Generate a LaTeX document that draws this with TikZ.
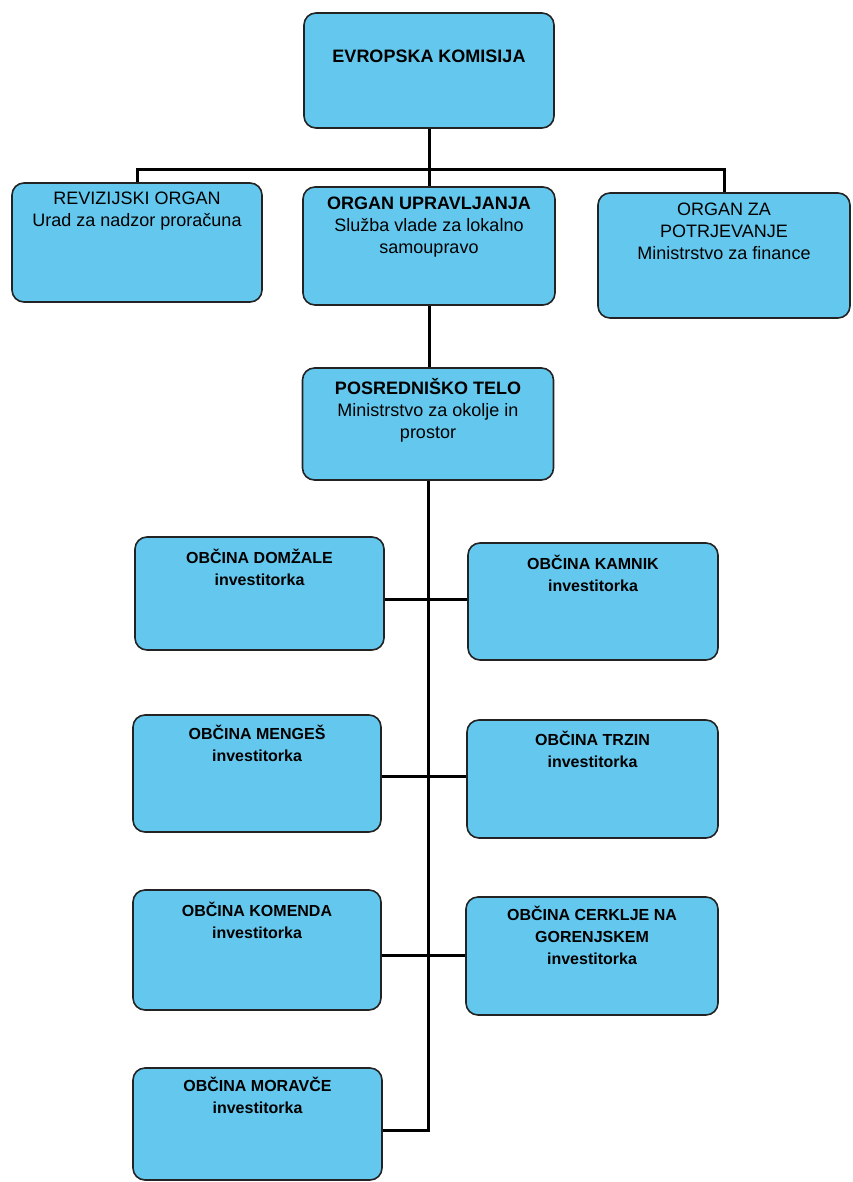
\documentclass[tikz,border=0pt]{standalone}
\usepackage{fontspec}
\setmainfont{Liberation Sans}
\definecolor{boxblue}{RGB}{100,200,238}
\definecolor{edgegray}{RGB}{35,35,35}
\begin{document}
\begin{tikzpicture}[x=1pt,y=-1pt,
  box/.style={draw=edgegray, line width=1.6pt, fill=boxblue, rounded corners=12pt, inner sep=0pt},
  txt/.style={anchor=north, inner sep=0pt, align=center, text=black},
  upfont/.style={font=\fontsize{18}{22}\selectfont},
  lofont/.style={font=\bfseries\fontsize{16}{22}\selectfont},
  conn/.style={line width=3pt, black}]
\useasboundingbox[fill=white] (0,0) rectangle (853,1182);

% boxes
\node[box, minimum width=250pt, minimum height=115pt] (ek)  at (429,70.5) {};
\node[box, minimum width=250pt, minimum height=119pt] (rev) at (137,242.5) {};
\node[box, minimum width=252pt, minimum height=118pt] (upr) at (429,246) {};
\node[box, minimum width=252pt, minimum height=125pt] (pot) at (724,255.5) {};
\node[box, minimum width=251pt, minimum height=112pt] (pos) at (428,424) {};
\node[box, minimum width=249pt, minimum height=113pt] (dom) at (259.5,593.5) {};
\node[box, minimum width=250pt, minimum height=117pt] (kam) at (593,601.5) {};
\node[box, minimum width=248pt, minimum height=117pt] (men) at (257,773.5) {};
\node[box, minimum width=251pt, minimum height=118pt] (trz) at (592.5,779) {};
\node[box, minimum width=248pt, minimum height=120pt] (kom) at (257,950) {};
\node[box, minimum width=252pt, minimum height=118pt] (cer) at (592,956) {};
\node[box, minimum width=249pt, minimum height=112pt] (mor) at (257.5,1124) {};

% texts
\node[txt, upfont] (ekt)  at ([yshift=-38pt]ek.north)  {\textbf{EVROPSKA KOMISIJA}};
\node[txt, upfont] (revt) at ([yshift=-10pt]rev.north) {REVIZIJSKI ORGAN\\Urad za nadzor proračuna};
\node[txt, upfont] (uprt) at ([yshift=-11pt]upr.north) {\textbf{ORGAN UPRAVLJANJA}\\Služba vlade za lokalno\\samoupravo};
\node[txt, upfont] (pott) at ([yshift=-11pt]pot.north) {ORGAN ZA\\POTRJEVANJE\\Ministrstvo za finance};
\node[txt, upfont] (post) at ([yshift=-11pt]pos.north) {\textbf{POSREDNIŠKO TELO}\\Ministrstvo za okolje in\\prostor};
\node[txt, lofont] (domt) at ([yshift=-13pt]dom.north) {OBČINA DOMŽALE\\investitorka};
\node[txt, lofont] (kamt) at ([yshift=-13pt]kam.north) {OBČINA KAMNIK\\investitorka};
\node[txt, lofont] (ment) at ([yshift=-11pt]men.north) {OBČINA MENGEŠ\\investitorka};
\node[txt, lofont] (trzt) at ([yshift=-12pt]trz.north) {OBČINA TRZIN\\investitorka};
\node[txt, lofont] (komt) at ([yshift=-13pt]kom.north) {OBČINA KOMENDA\\investitorka};
\node[txt, lofont] (cert) at ([yshift=-10pt]cer.north) {OBČINA CERKLJE NA\\GORENJSKEM\\investitorka};
\node[txt, lofont] (mort) at ([yshift=-10pt]mor.north) {OBČINA MORAVČE\\investitorka};

% connectors
\coordinate (bar) at (429,170);
\coordinate (j1) at (428,599);
\coordinate (j2) at (428,776);
\coordinate (j3) at (428,955);
\coordinate (jend) at (428,1130);
\draw[conn] (ek.south) -- (ek.south |- upr.north);
\draw[conn] (rev.north) |- (bar) -| (pot.north);
\draw[conn] (upr.south) -- (upr.south |- pos.north);
\draw[conn] (pos.south) -- (pos.south |- jend) -- (mor.east |- jend);
\draw[conn] (dom.east |- j1) -- (kam.west |- j1);
\draw[conn] (men.east |- j2) -- (trz.west |- j2);
\draw[conn] (kom.east |- j3) -- (cer.west |- j3);
\end{tikzpicture}
\end{document}
